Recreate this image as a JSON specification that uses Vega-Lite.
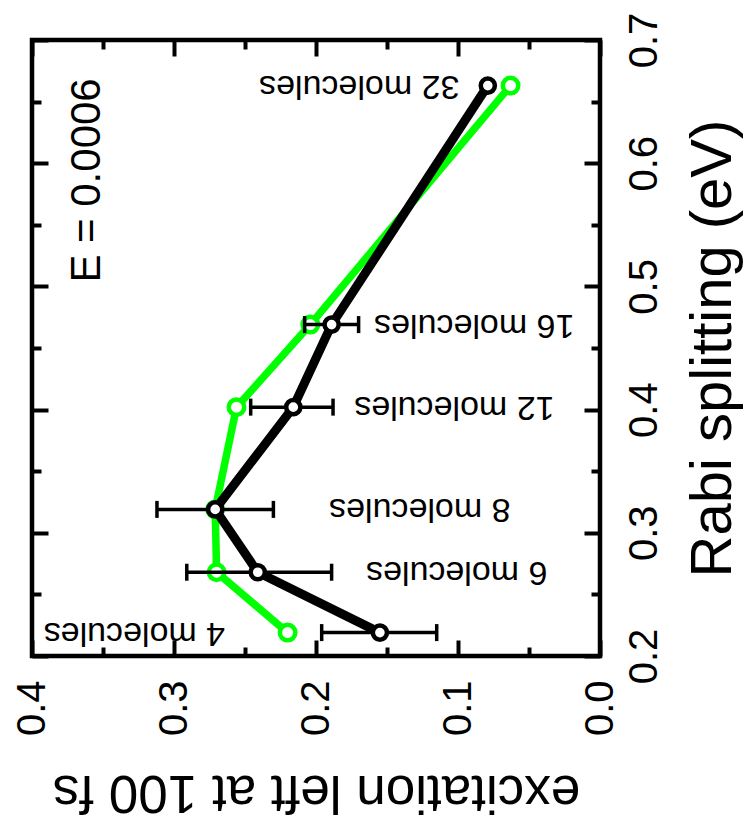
{
  "$schema": "https://vega.github.io/schema/vega-lite/v6.json",
  "autosize": "none",
  "width": 568,
  "height": 616,
  "padding": {"left": 32, "top": 40, "right": 143, "bottom": 168},
  "background": "white",
  "config": {
    "view": {"stroke": "black", "strokeWidth": 4.5},
    "font": "Liberation Sans",
    "axis": {
      "labelFont": "Liberation Sans",
      "titleFont": "Liberation Sans",
      "labelColor": "black",
      "titleColor": "black",
      "tickColor": "black",
      "grid": false,
      "domain": false,
      "labelFlush": false,
      "labelOverlap": false,
      "labelBound": false,
      "titleFontWeight": "normal"
    }
  },
  "datasets": {
    "series": [
      {"molecules": 4, "label": "4 molecules", "rabi": 0.219, "black": 0.155, "black_lo": 0.115, "black_hi": 0.196, "green": 0.220, "label_at": 0.264},
      {"molecules": 6, "label": "6 molecules", "rabi": 0.268, "black": 0.241, "black_lo": 0.189, "black_hi": 0.291, "green": 0.270, "label_at": 0.037},
      {"molecules": 8, "label": "8 molecules", "rabi": 0.319, "black": 0.271, "black_lo": 0.230, "black_hi": 0.312, "green": 0.271, "label_at": 0.063},
      {"molecules": 12, "label": "12 molecules", "rabi": 0.402, "black": 0.216, "black_lo": 0.188, "black_hi": 0.246, "green": 0.256, "label_at": 0.032},
      {"molecules": 16, "label": "16 molecules", "rabi": 0.469, "black": 0.189, "black_lo": 0.170, "black_hi": 0.208, "green": 0.204, "label_at": 0.018},
      {"molecules": 32, "label": "32 molecules", "rabi": 0.663, "black": 0.079, "black_lo": null, "black_hi": null, "green": 0.063, "label_at": 0.099}
    ],
    "note": [
      {"text": "E = 0.0006", "exc": 0.352, "rabi": 0.586}
    ]
  },
  "data": {"name": "series"},
  "resolve": {"axis": {"x": "independent", "y": "independent"}},
  "layer": [
    {
      "mark": {"type": "line", "color": "#00ff00", "strokeWidth": 7.5},
      "encoding": {
        "x": {
          "field": "green", "type": "quantitative",
          "scale": {"domain": [0, 0.4], "reverse": true, "nice": false, "zero": false},
          "axis": {
            "orient": "bottom", "values": [0, 0.1, 0.2, 0.3, 0.4], "format": ".1f",
            "ticks": false, "labelAngle": -90, "labelAlign": "right", "labelBaseline": "middle",
            "labelPadding": 24, "labelFontSize": 40,
            "title": "excitation left at 100 fs", "titleAngle": 180, "titleBaseline": "alphabetic",
            "titleFontSize": 53, "titlePadding": 40
          }
        },
        "y": {
          "field": "rabi", "type": "quantitative",
          "scale": {"domain": [0.2, 0.7], "nice": false, "zero": false},
          "axis": {
            "orient": "right", "values": [0.2, 0.3, 0.4, 0.5, 0.6, 0.7], "format": ".1f",
            "ticks": false, "labelAngle": -90, "labelAlign": "center", "labelBaseline": "top",
            "labelPadding": 24, "labelFontSize": 40,
            "title": "Rabi splitting (eV)", "titleAngle": 270, "titleBaseline": "top",
            "titleFontSize": 58, "titlePadding": 20
          }
        },
        "order": {"field": "rabi", "type": "quantitative"}
      }
    },
    {
      "mark": {"type": "point", "shape": "circle", "filled": true, "fill": "white", "stroke": "#00ff00", "strokeWidth": 4.5, "size": 240, "opacity": 1},
      "encoding": {
        "x": {
          "field": "green", "type": "quantitative",
          "axis": {"orient": "bottom", "values": [0, 0.1, 0.2, 0.3, 0.4], "labels": false, "title": null, "tickSize": -16, "tickWidth": 4}
        },
        "y": {
          "field": "rabi", "type": "quantitative",
          "axis": {"orient": "right", "values": [0.2, 0.3, 0.4, 0.5, 0.6, 0.7], "labels": false, "title": null, "tickSize": -16, "tickWidth": 4}
        }
      }
    },
    {
      "mark": {"type": "line", "color": "black", "strokeWidth": 9},
      "encoding": {
        "x": {
          "field": "black", "type": "quantitative",
          "axis": {"orient": "bottom", "values": [0.05, 0.15, 0.25, 0.35], "labels": false, "title": null, "tickSize": -9, "tickWidth": 4}
        },
        "y": {
          "field": "rabi", "type": "quantitative",
          "axis": {"orient": "right", "values": [0.25, 0.35, 0.45, 0.55, 0.65], "labels": false, "title": null, "tickSize": -9, "tickWidth": 4}
        },
        "order": {"field": "rabi", "type": "quantitative"}
      }
    },
    {
      "transform": [{"filter": "isValid(datum.black_lo)"}],
      "mark": {"type": "rule", "color": "black", "strokeWidth": 3.5},
      "encoding": {
        "x": {
          "field": "black_lo", "type": "quantitative",
          "axis": {"orient": "top", "values": [0, 0.1, 0.2, 0.3, 0.4], "labels": false, "title": null, "tickSize": -16, "tickWidth": 4}
        },
        "x2": {"field": "black_hi"},
        "y": {
          "field": "rabi", "type": "quantitative",
          "axis": {"orient": "left", "values": [0.2, 0.3, 0.4, 0.5, 0.6, 0.7], "labels": false, "title": null, "tickSize": -16, "tickWidth": 4}
        }
      }
    },
    {
      "transform": [
        {"filter": "isValid(datum.black_lo)"},
        {"fold": ["black_lo", "black_hi"], "as": ["end", "value"]}
      ],
      "mark": {"type": "tick", "orient": "vertical", "color": "black", "size": 17, "thickness": 3.5, "opacity": 1},
      "encoding": {
        "x": {
          "field": "value", "type": "quantitative",
          "axis": {"orient": "top", "values": [0.05, 0.15, 0.25, 0.35], "labels": false, "title": null, "tickSize": -9, "tickWidth": 4}
        },
        "y": {
          "field": "rabi", "type": "quantitative",
          "axis": {"orient": "left", "values": [0.25, 0.35, 0.45, 0.55, 0.65], "labels": false, "title": null, "tickSize": -9, "tickWidth": 4}
        }
      }
    },
    {
      "mark": {"type": "point", "shape": "circle", "filled": true, "fill": "white", "stroke": "black", "strokeWidth": 4.5, "size": 200, "opacity": 1},
      "encoding": {
        "x": {"field": "black", "type": "quantitative", "axis": null},
        "y": {"field": "rabi", "type": "quantitative", "axis": null}
      }
    },
    {
      "mark": {"type": "text", "angle": 180, "align": "left", "baseline": "middle", "fontSize": 34, "font": "Liberation Sans", "color": "black"},
      "encoding": {
        "x": {"field": "label_at", "type": "quantitative", "axis": null},
        "y": {"field": "rabi", "type": "quantitative", "axis": null},
        "text": {"field": "label"}
      }
    },
    {
      "data": {"name": "note"},
      "mark": {"type": "text", "angle": 270, "align": "center", "baseline": "alphabetic", "fontSize": 42, "font": "Liberation Sans", "color": "black"},
      "encoding": {
        "x": {"field": "exc", "type": "quantitative", "axis": null},
        "y": {"field": "rabi", "type": "quantitative", "axis": null},
        "text": {"field": "text"}
      }
    }
  ]
}
